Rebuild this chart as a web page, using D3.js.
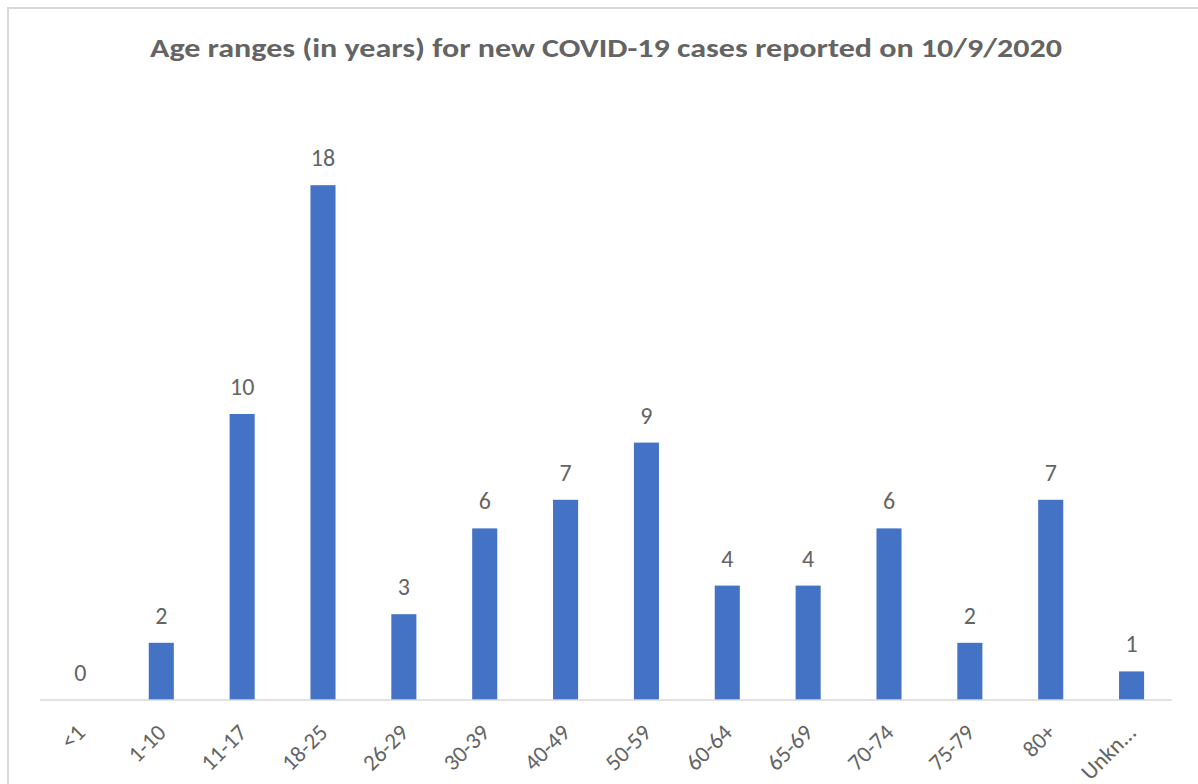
<!DOCTYPE html>
<html>
<head>
<meta charset="utf-8">
<script src="https://cdn.jsdelivr.net/npm/d3@7"></script>
<style>
html,body{margin:0;padding:0;background:#fff;}
svg{display:block;}
</style>
</head>
<body>
<svg id="chart" width="1198" height="784"></svg>
<script>
const categories = ["<1","1-10","11-17","18-25","26-29","30-39","40-49","50-59","60-64","65-69","70-74","75-79","80+","Unkn..."];
const values = [0,2,10,18,3,6,7,9,4,4,6,2,7,1];
const titleText = "Age ranges (in years) for new COVID-19 cases reported on 10/9/2020";

(function(){
const svg = d3.select("#chart");
const W = 1198, H = 784;
const mLeft = 40, mRight = 1172, mTop = 128, mBottom = 700;
const font = "Carlito, 'Open Sans', 'Noto Sans', sans-serif";
const gray = "#646464";

// border (chart area outline)
svg.append("path")
  .attr("d", `M8,${H} L8,8 L${W},8`)
  .attr("fill", "none").attr("stroke", "#d9d9d9").attr("stroke-width", 2);

const x = d3.scaleBand().domain(categories).range([mLeft, mRight]).paddingInner(0.69).paddingOuter(0.345);
const y = d3.scaleLinear().domain([0, 20]).range([mBottom, mTop]);

// bars
svg.append("g").selectAll("rect").data(values).join("rect")
  .attr("x", (d,i) => x(categories[i]))
  .attr("y", d => y(d))
  .attr("width", x.bandwidth())
  .attr("height", d => y(0) - y(d))
  .attr("fill", "#4472C4");

// axis
const axis = d3.axisBottom(x).tickSize(0).tickPadding(0);
const gx = svg.append("g").attr("transform", `translate(0,${mBottom})`).call(axis);
gx.select(".domain").attr("stroke", "#d9d9d9").attr("stroke-width", 1.5)
  .attr("d", `M${mLeft},0H${mRight}`);
gx.selectAll(".tick text")
  .attr("font-family", font).attr("font-size", 23).attr("fill", gray)
  .attr("text-anchor", "end")
  .attr("dy", 0)
  .attr("transform", "translate(6,34) rotate(-45)");

// value labels
svg.append("g").selectAll("text").data(values).join("text")
  .attr("x", (d,i) => x(categories[i]) + x.bandwidth()/2)
  .attr("y", d => y(d) - 19)
  .attr("text-anchor", "middle")
  .attr("font-family", font).attr("font-size", 24).attr("fill", gray)
  .text(d => d);

// title
const t = svg.append("text")
  .attr("x", 606).attr("y", 57)
  .attr("text-anchor", "middle")
  .attr("font-family", font).attr("font-size", 27).attr("font-weight", "bold").attr("fill", gray)
  .text(titleText);
t.attr("textLength", 912).attr("lengthAdjust", "spacingAndGlyphs");
})();
</script>
</body>
</html>
